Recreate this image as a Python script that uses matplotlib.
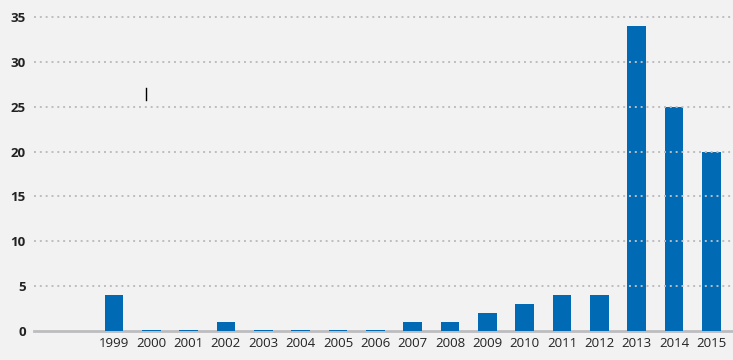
import matplotlib
matplotlib.use('Agg')
import matplotlib.pyplot as plt
from matplotlib.lines import Line2D
import numpy as np

# datos
anios = ['1999', '2000', '2001', '2002', '2003', '2004', '2005', '2006', '2007',
         '2008', '2009', '2010', '2011', '2012', '2013', '2014', '2015']
valores = [4, 0.15, 0.15, 1, 0.15, 0.15, 0.15, 0.15, 1, 1, 2, 3, 4, 4, 34, 25, 20]
yticks = [0, 5, 10, 15, 20, 25, 30, 35]

fondo = '#f2f2f2'
azul = '#006ab4'
gris = '#bdbdc0'

plt.rcParams['font.family'] = ['Open Sans', 'DejaVu Sans']

fig = plt.figure(figsize=(7.33, 3.6), dpi=100, facecolor=fondo)
ax = fig.add_axes([34 / 733, 29 / 360, 699 / 733, 331 / 360])
ax.set_facecolor(fondo)

x = np.arange(len(anios))
ax.bar(x, valores, width=0.5, color=azul, zorder=2)

ax.set_xlim(-2.14, 16.58)
ax.set_ylim(0, 36.9)

# rejilla punteada por encima de las barras
for t in yticks[1:]:
    ax.axhline(t, color=gris, lw=1.4, linestyle=(0, (1, 2)), zorder=3)
ax.axhline(0, color=gris, lw=2, zorder=1.5, clip_on=False)

ax.set_yticks(yticks)
ax.set_yticklabels([str(t) for t in yticks], fontsize=9.5, fontweight='bold', color='#222222')
ax.set_xticks(x)
ax.set_xticklabels(anios, fontsize=9.5, fontweight='medium', color='#222222')
ax.tick_params(length=0)
ax.tick_params(axis='y', pad=6)
ax.tick_params(axis='x', pad=4)
for s in ax.spines.values():
    s.set_visible(False)

# pequeña marca vertical
fig.add_artist(Line2D([145.5 / 733, 145.5 / 733], [1 - 88 / 360, 1 - 100 / 360],
                      color='black', lw=1))

plt.savefig('out.png', dpi=100, facecolor=fondo)
